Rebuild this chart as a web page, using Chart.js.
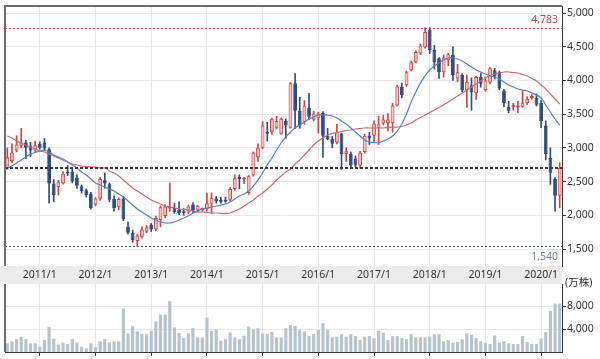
<!DOCTYPE html>
<html><head><meta charset="utf-8">
<script src="https://cdn.jsdelivr.net/npm/chart.js@4.4.1/dist/chart.umd.min.js"></script>
<style>
html,body{margin:0;padding:0;background:#fff;}
#wrap{position:relative;width:600px;height:359px;overflow:hidden;background:#fff;}
#pc{position:absolute;left:0;top:0;}
#vc{position:absolute;left:0;top:266px;}
</style></head><body>
<div id="wrap">
<canvas id="pc" width="600" height="285"></canvas>
<canvas id="vc" width="600" height="93"></canvas>
</div>
<script>
// ---- categories: monthly, 2010/6 .. 2020/5
const MONTHS = [];
for (let y = 2010, m = 6; MONTHS.length < 120;) { MONTHS.push(y + '/' + m); m++; if (m > 12) { m = 1; y++; } }

// ---- OHLC (price, yen)
const OPEN = [2700,2800,2960,3030,3080,3030,2960,3060,3080,2980,2470,2420,2470,2650,2650,2560,2430,2370,2320,2160,
2250,2520,2460,2240,2120,2250,1830,1740,1620,1680,1760,1860,1790,1930,1990,2100,2110,2080,2060,2040,
2160,2070,2080,2090,2170,2250,2230,2220,2230,2390,2560,2530,2330,2590,2860,3000,3240,3230,3300,3210,
3400,3300,3960,3550,3380,3590,3420,3440,3520,3180,3130,3080,3210,2910,2910,2840,2740,2940,3180,3180,
3300,3360,3370,3370,3630,3910,3930,4150,4270,4400,4490,4750,4450,4330,4120,4300,4380,4030,4080,3860,
3930,3810,4050,3860,3970,4150,4120,3850,3610,3610,3600,3610,3660,3740,3740,3670,3330,2850,2540,2290];
const HIGH = [3000,3060,3180,3290,3110,3080,3100,3090,3140,3000,2530,2520,2650,2740,2700,2600,2450,2390,2340,2260,
2560,2630,2480,2290,2260,2280,1900,1780,1720,1830,1850,1880,1990,2140,2160,2480,2180,2200,2100,2150,
2190,2150,2110,2330,2330,2280,2270,2270,2410,2600,2600,2560,2590,2940,3060,3390,3380,3440,3470,3440,
3430,3970,4100,3750,3700,3810,3540,3530,3540,3290,3170,3350,3220,3000,2940,2880,2950,3200,3230,3400,
3470,3480,3510,3660,3930,3960,4140,4290,4440,4540,4780,4783,4520,4340,4380,4400,4500,4240,4100,4080,
4040,4060,4110,4050,4190,4180,4140,3870,3690,3660,3690,3850,3760,3790,3800,3700,3400,3000,2560,2780];
const LOW = [2680,2780,2940,3000,2840,2870,2940,2980,2960,2180,2200,2300,2460,2590,2480,2400,2330,2270,2090,2140,
2220,2400,2200,2060,2080,1920,1720,1600,1540,1660,1740,1760,1770,1830,1960,2060,2030,2010,2000,2020,
2040,2050,2060,2060,2030,2180,2180,2190,2210,2370,2390,2470,2310,2580,2800,2990,3100,3200,3280,3200,
3140,3290,3290,3290,3350,3420,3400,3220,2860,3120,3000,3060,2680,2800,2690,2720,2700,2920,3050,3080,
3050,3340,3250,3230,3620,3740,3910,4140,4260,4380,4480,4400,4170,4030,4050,4220,4000,3980,3830,3600,
3560,3720,3900,3840,3950,4020,3860,3610,3520,3560,3520,3600,3640,3720,3620,3300,2820,2460,2060,2110];
const CLOSE = [2860,2930,3050,3080,3000,2960,3040,3000,2990,2470,2300,2490,2620,2620,2500,2440,2360,2300,2110,2250,
2540,2470,2230,2110,2240,1940,1740,1630,1700,1790,1820,1790,1960,2120,2130,2120,2050,2030,2030,2130,
2070,2140,2100,2180,2260,2210,2200,2200,2390,2550,2540,2550,2580,2930,3000,3330,3210,3430,3400,3430,
3330,3960,3550,3330,3630,3460,3510,3510,3180,3130,3060,3230,2910,2950,2740,2740,2930,3180,3140,3360,
3350,3420,3420,3630,3910,3780,4120,4270,4420,4520,4720,4450,4270,4120,4340,4390,4080,4120,3850,3980,
3830,4050,3950,4000,4180,4060,3880,3660,3550,3640,3620,3660,3730,3760,3640,3400,2910,2630,2290,2700];

// ---- moving averages
const MA_SHORT = [2700,2730,2776,2820,2864,2909,2931,2953,2961,2939,2894,2864,2835,2790,2746,2701,2642,2597,2538,2479,
2449,2419,2390,2360,2316,2271,2212,2153,2093,2049,2004,1960,1930,1901,1886,1886,1901,1930,1960,1990,
2034,2064,2093,2108,2123,2138,2153,2167,2197,2242,2286,2316,2360,2434,2523,2627,2746,2850,2968,3072,
3161,3235,3295,3339,3384,3428,3458,3487,3487,3487,3473,3443,3398,3354,3295,3235,3176,3117,3087,3080,
3080,3102,3131,3176,3250,3354,3502,3680,3828,3962,4066,4155,4214,4259,4303,4333,4333,4318,4288,4244,
4199,4155,4125,4095,4066,4051,4021,3977,3932,3903,3873,3858,3843,3814,3784,3740,3636,3532,3428,3339];
const MA_LONG = [3176,3146,3102,3072,3042,3013,2983,2953,2939,2909,2879,2850,2820,2790,2761,2746,2731,2724,2716,2716,
2701,2701,2657,2627,2583,2523,2464,2405,2360,2316,2271,2227,2197,2167,2138,2123,2108,2093,2086,2078,
2064,2049,2049,2041,2034,2034,2027,2027,2034,2064,2093,2138,2182,2227,2286,2331,2390,2449,2523,2583,
2642,2686,2761,2820,2894,2968,3042,3102,3146,3191,3213,3228,3243,3258,3265,3280,3287,3295,3295,3295,
3295,3295,3302,3309,3309,3317,3339,3369,3413,3450,3487,3524,3562,3599,3636,3680,3725,3769,3814,3858,
3903,3947,3992,4036,4073,4095,4110,4125,4125,4118,4110,4088,4066,4029,3992,3932,3873,3799,3725,3650];

// ---- volume (万株)
const VOLUME = [1510,1860,2260,2660,2260,1510,1510,920,2090,4400,2330,1280,1680,1390,2260,1680,920,640,1510,810,
1860,2260,1680,1860,1860,7600,3250,4520,3600,3140,3140,3710,5340,6560,6560,8930,4290,3310,2440,3250,
4180,2550,2550,6030,3710,3940,1970,2260,3420,2550,2260,2840,4460,3940,4180,3250,3140,3540,2550,2550,
4180,4700,4580,3830,3600,2840,3130,3830,5050,3830,2550,2670,3130,2670,3130,2780,2090,2670,2780,2440,
3710,3420,2090,2780,2780,2440,2260,3130,2550,2550,2550,2670,3130,3130,1860,2090,1620,1740,2200,3250,
3020,2440,1860,1620,1390,2900,1620,1860,1510,1390,1390,2780,1740,1390,1390,2380,3480,7190,8470,8470];

// ---- tick labels / reference values
const PRICE_TICKS = [1500,2000,2500,3000,3500,4000,4500,5000];
const VOLUME_TICKS = [4000,8000];
const HIGH_MARK = 4783, LOW_MARK = 1540, LAST_MARK = 2700;
const VOLUME_UNIT = '(万株)';

// ---------------- rendering ----------------
const FONT = "'Noto Sans','Noto Sans CJK JP',sans-serif";
const isJan = i => MONTHS[i] && MONTHS[i].split('/')[1] === '1';
const UP_LINE = '#d2403f', UP_FILL = '#f5c3c3', DOWN = '#2f4b7d';
const up = i => CLOSE[i] >= OPEN[i];
const fmt = v => Number(v).toLocaleString('en-US');
const GRID = '#e7e7e7';

const priceDecor = {
  id: 'priceDecor',
  beforeDraw(chart) {
    const { ctx, chartArea: a } = chart;
    ctx.save();
    ctx.fillStyle = '#ebebeb';
    ctx.fillRect(0, a.bottom, a.right, 18);
    ctx.restore();
  },
  beforeDatasetsDraw(chart) {
    const { ctx, chartArea: a, scales: { y } } = chart;
    const line = (v, color, w, dash) => {
      const py = Math.round(y.getPixelForValue(v)) + 0.5;
      ctx.save(); ctx.strokeStyle = color; ctx.lineWidth = w; ctx.setLineDash(dash);
      ctx.beginPath(); ctx.moveTo(a.left, py); ctx.lineTo(a.right, py); ctx.stroke(); ctx.restore();
    };
    line(HIGH_MARK, '#c0504d', 1, [2, 2]);
    line(LOW_MARK, '#3d4d70', 1, [2, 2]);
  },
  afterDatasetsDraw(chart) {
    const { ctx, chartArea: a, scales: { y } } = chart;
    const py = Math.round(y.getPixelForValue(LAST_MARK));
    ctx.save(); ctx.strokeStyle = '#3a3a3a'; ctx.lineWidth = 2; ctx.setLineDash([3, 2]);
    ctx.beginPath(); ctx.moveTo(a.left, py); ctx.lineTo(a.right, py); ctx.stroke(); ctx.restore();
  },
  afterDraw(chart) {
    const { ctx, chartArea: a, scales: { y } } = chart;
    ctx.save();
    ctx.strokeStyle = '#6b6b6b'; ctx.lineWidth = 2;
    ctx.beginPath(); ctx.moveTo(a.left, a.bottom); ctx.lineTo(a.left, a.top); ctx.lineTo(a.right, a.top); ctx.stroke();
    ctx.font = '10.5px ' + FONT; ctx.textAlign = 'right'; ctx.textBaseline = 'middle';
    ctx.fillStyle = '#b94a48';
    ctx.fillText(fmt(HIGH_MARK), a.right - 4, y.getPixelForValue(HIGH_MARK) - 8);
    ctx.fillStyle = '#6f7fa6';
    ctx.fillText(fmt(LOW_MARK), a.right - 4, y.getPixelForValue(LOW_MARK) + 11);
    ctx.restore();
  }
};

new Chart(document.getElementById('pc'), {
  type: 'bar',
  data: {
    labels: MONTHS,
    datasets: [
      { type: 'line', data: MA_SHORT, borderColor: '#5b7cc0', borderWidth: 1.2, pointRadius: 0, tension: 0.4, order: 0 },
      { type: 'line', data: MA_LONG, borderColor: '#c86a75', borderWidth: 1.2, pointRadius: 0, tension: 0.4, order: 0 },
      { data: MONTHS.map((_, i) => [OPEN[i], CLOSE[i]]), grouped: false, order: 1,
        backgroundColor: MONTHS.map((_, i) => up(i) ? UP_FILL : DOWN),
        borderColor: MONTHS.map((_, i) => up(i) ? UP_LINE : DOWN),
        borderWidth: 1, borderSkipped: false, minBarLength: 2,
        barPercentage: 0.82, categoryPercentage: 1 },
      { data: MONTHS.map((_, i) => [LOW[i], HIGH[i]]), grouped: false, order: 2,
        backgroundColor: MONTHS.map((_, i) => up(i) ? UP_LINE : DOWN),
        borderWidth: 0, barThickness: 1 }
    ]
  },
  options: {
    responsive: false, animation: false, events: [],
    layout: { padding: { left: 5, top: 6, right: 0, bottom: 1 } },
    plugins: { legend: { display: false }, tooltip: { enabled: false } },
    scales: {
      x: {
        offset: true,
        grid: { offset: false, drawTicks: false, color: c => isJan(c.index) ? GRID : 'rgba(0,0,0,0)' },
        border: { display: false },
        ticks: { autoSkip: false, maxRotation: 0, minRotation: 0, padding: 3, color: '#333',
          font: { family: FONT, size: 10.5 }, callback: (v, i) => isJan(i) ? MONTHS[i] : '' },
        afterFit: s => { s.height = 18; s.paddingLeft = 0; s.paddingRight = 0; }
      },
      y: {
        position: 'right', min: 1248, max: 5104,
        afterBuildTicks: s => { s.ticks = PRICE_TICKS.map(v => ({ value: v })); },
        afterFit: s => { s.width = 38; s.paddingTop = 0; s.paddingBottom = 0; },
        grid: { color: GRID, drawTicks: true, tickLength: 4, tickColor: '#333' },
        border: { display: true, color: '#333', width: 1 },
        ticks: { padding: 1, color: '#333', font: { family: FONT, size: 10.5 }, callback: v => fmt(v) }
      }
    }
  },
  plugins: [priceDecor]
});

const volDecor = {
  id: 'volDecor',
  afterDraw(chart) {
    const { ctx, chartArea: a } = chart;
    ctx.save();
    ctx.strokeStyle = '#6b6b6b'; ctx.lineWidth = 2;
    ctx.beginPath(); ctx.moveTo(a.left, a.top); ctx.lineTo(a.left, a.bottom); ctx.stroke();
    ctx.font = '10.5px ' + FONT; ctx.textAlign = 'left'; ctx.textBaseline = 'middle'; ctx.fillStyle = '#333';
    ctx.fillText(VOLUME_UNIT, a.right + 3, a.top - 1);
    ctx.restore();
  }
};

new Chart(document.getElementById('vc'), {
  type: 'bar',
  data: {
    labels: MONTHS,
    datasets: [{ data: VOLUME, backgroundColor: '#b5c3cd', barPercentage: 0.68, categoryPercentage: 1 }]
  },
  options: {
    responsive: false, animation: false, events: [],
    layout: { padding: { left: 5, top: 18, right: 0, bottom: 2 } },
    plugins: { legend: { display: false }, tooltip: { enabled: false } },
    scales: {
      x: {
        offset: true,
        grid: { offset: false, drawTicks: true, tickLength: 4,
          color: c => isJan(c.index) ? GRID : 'rgba(0,0,0,0)',
          tickColor: c => isJan(c.index) ? '#444' : 'rgba(0,0,0,0)' },
        border: { display: true, color: '#333', width: 1 },
        ticks: { display: false, autoSkip: false },
        afterFit: s => { s.height = 5; s.paddingLeft = 0; s.paddingRight = 0; }
      },
      y: {
        position: 'right', min: 0, max: 11900,
        afterBuildTicks: s => { s.ticks = VOLUME_TICKS.map(v => ({ value: v })); },
        afterFit: s => { s.width = 38; s.paddingTop = 0; s.paddingBottom = 0; },
        grid: { color: GRID, drawTicks: true, tickLength: 4, tickColor: '#333' },
        border: { display: true, color: '#333', width: 1 },
        ticks: { padding: 1, color: '#333', font: { family: FONT, size: 10.5 }, callback: v => fmt(v) }
      }
    }
  },
  plugins: [volDecor]
});
</script>
</body></html>
